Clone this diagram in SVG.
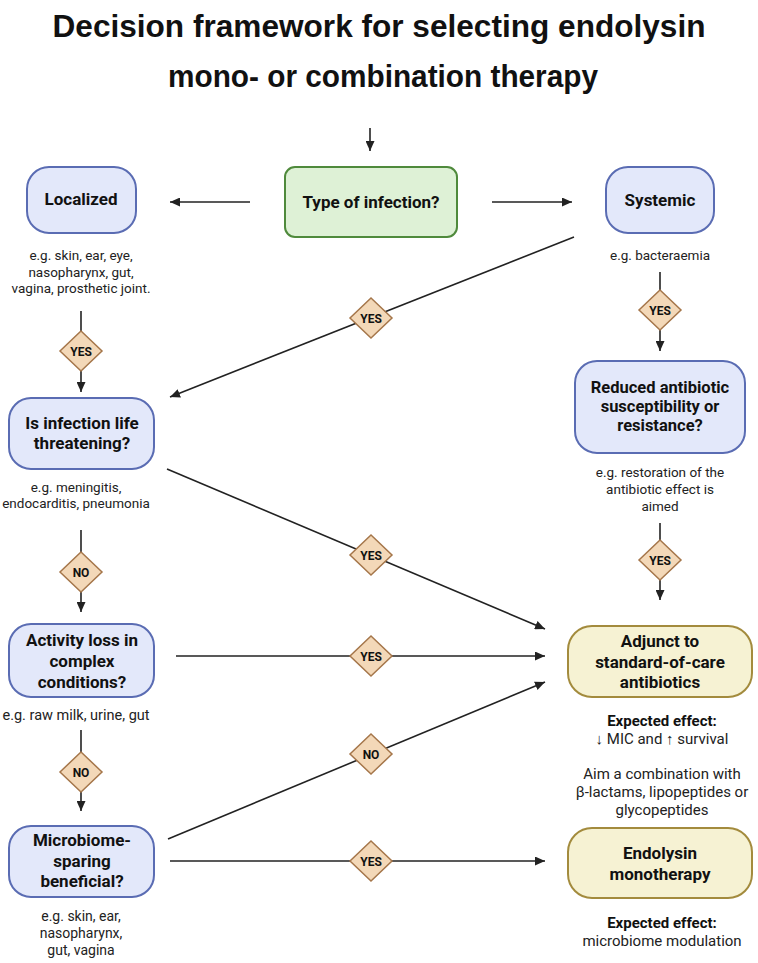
<svg xmlns="http://www.w3.org/2000/svg" width="758" height="963" viewBox="0 0 758 963">
<defs>
<marker id="arr" markerUnits="userSpaceOnUse" markerWidth="10" markerHeight="9" refX="10" refY="4.5" orient="auto">
<path d="M0,0 L10,4.5 L0,9 z" fill="#222"/>
</marker>
<style>
.title{font-family:"Liberation Sans",Arial,sans-serif;font-weight:bold;font-size:32px;fill:#111;text-anchor:middle}
.nt{font-family:Roboto,"Liberation Sans",sans-serif;font-weight:bold;font-size:17px;fill:#111;text-anchor:middle}
.cap{font-family:Roboto,"Liberation Sans",sans-serif;font-size:13.5px;fill:#222;text-anchor:middle}
.cap15{font-family:Roboto,"Liberation Sans",sans-serif;font-size:15px;fill:#222;text-anchor:middle}
.capb{font-family:Roboto,"Liberation Sans",sans-serif;font-weight:bold;font-size:15px;fill:#111;text-anchor:middle}
.blue{fill:#e3e8fa;stroke:#5a6cb3;stroke-width:2}
.green{fill:#def1d6;stroke:#4f8a3c;stroke-width:2}
.yellow{fill:#f6f2d3;stroke:#a38b3d;stroke-width:2}
.dia{fill:#f3d8b8;stroke:#a5764a;stroke-width:1.5}
.dt{font-family:Roboto,"Liberation Sans",sans-serif;font-weight:bold;font-size:12px;fill:#111;text-anchor:middle}
.ln{stroke:#222;stroke-width:1.6;fill:none}
</style>
</defs>
<rect width="758" height="963" fill="#fff"/>
<g id="title">
<text class="title" x="379" y="37" textLength="653" lengthAdjust="spacingAndGlyphs">Decision framework for selecting endolysin</text>
<text class="title" x="383" y="87" textLength="430" lengthAdjust="spacingAndGlyphs">mono- or combination therapy</text>
</g>
<g id="connectors">
<line class="ln" x1="370" y1="128" x2="370" y2="151" marker-end="url(#arr)"/>
<line class="ln" x1="250" y1="202" x2="170" y2="202" marker-end="url(#arr)"/>
<line class="ln" x1="492" y1="202" x2="572" y2="202" marker-end="url(#arr)"/>
<line class="ln" x1="574" y1="237" x2="170" y2="397" marker-end="url(#arr)"/>
<line class="ln" x1="81" y1="311" x2="81" y2="392" marker-end="url(#arr)"/>
<line class="ln" x1="660" y1="272" x2="660" y2="351" marker-end="url(#arr)"/>
<line class="ln" x1="660" y1="523" x2="660" y2="600" marker-end="url(#arr)"/>
<line class="ln" x1="167" y1="469" x2="545" y2="629" marker-end="url(#arr)"/>
<line class="ln" x1="81" y1="530" x2="81" y2="612" marker-end="url(#arr)"/>
<line class="ln" x1="176" y1="656" x2="545" y2="656" marker-end="url(#arr)"/>
<line class="ln" x1="81" y1="730" x2="81" y2="811" marker-end="url(#arr)"/>
<line class="ln" x1="168" y1="839" x2="545" y2="682" marker-end="url(#arr)"/>
<line class="ln" x1="170" y1="861" x2="545" y2="861" marker-end="url(#arr)"/>
<g id="labels">
<g transform="translate(371,318)"><path class="dia" d="M0,-20 L21,0 L0,20 L-21,0 z"/><text class="dt" y="4.5">YES</text></g>
<g transform="translate(81,351)"><path class="dia" d="M0,-20 L21,0 L0,20 L-21,0 z"/><text class="dt" y="4.5">YES</text></g>
<g transform="translate(660,310)"><path class="dia" d="M0,-20 L21,0 L0,20 L-21,0 z"/><text class="dt" y="4.5">YES</text></g>
<g transform="translate(660,560)"><path class="dia" d="M0,-20 L21,0 L0,20 L-21,0 z"/><text class="dt" y="4.5">YES</text></g>
<g transform="translate(371,555)"><path class="dia" d="M0,-20 L21,0 L0,20 L-21,0 z"/><text class="dt" y="4.5">YES</text></g>
<g transform="translate(81,572)"><path class="dia" d="M0,-20 L21,0 L0,20 L-21,0 z"/><text class="dt" y="4.5">NO</text></g>
<g transform="translate(371,656)"><path class="dia" d="M0,-20 L21,0 L0,20 L-21,0 z"/><text class="dt" y="4.5">YES</text></g>
<g transform="translate(81,772)"><path class="dia" d="M0,-20 L21,0 L0,20 L-21,0 z"/><text class="dt" y="4.5">NO</text></g>
<g transform="translate(371,754)"><path class="dia" d="M0,-20 L21,0 L0,20 L-21,0 z"/><text class="dt" y="4.5">NO</text></g>
<g transform="translate(371,861)"><path class="dia" d="M0,-20 L21,0 L0,20 L-21,0 z"/><text class="dt" y="4.5">YES</text></g>
</g>
</g>
<g id="type">
<rect class="green" x="285" y="167" width="172" height="70" rx="10"/>
<text class="nt" x="371" y="208">Type of infection?</text>
</g>
<g id="localized">
<rect class="blue" x="27" y="167" width="109" height="66" rx="22"/>
<text class="nt" x="81" y="205">Localized</text>
<text class="cap" x="81" y="260">e.g. skin, ear, eye,</text>
<text class="cap" x="81" y="277">nasopharynx, gut,</text>
<text class="cap" x="81" y="293">vagina, prosthetic joint.</text>
</g>
<g id="systemic">
<rect class="blue" x="606" y="167" width="108" height="66" rx="22"/>
<text class="nt" x="660" y="206">Systemic</text>
<text class="cap" x="660" y="260">e.g. bacteraemia</text>
</g>
<g id="lifethreat">
<rect class="blue" x="9" y="398" width="145" height="71" rx="22"/>
<text class="nt" x="82" y="429">Is infection life</text>
<text class="nt" x="82" y="449">threatening?</text>
<text class="cap" x="76" y="492">e.g. meningitis,</text>
<text class="cap" x="76" y="508">endocarditis, pneumonia</text>
</g>
<g id="reduced">
<rect class="blue" x="575" y="361" width="170" height="92" rx="22"/>
<text class="nt" x="660" y="393" style="font-size:16.5px">Reduced antibiotic</text>
<text class="nt" x="660" y="412" style="font-size:16.5px">susceptibility or</text>
<text class="nt" x="660" y="431" style="font-size:16.5px">resistance?</text>
<text class="cap" x="660" y="477">e.g. restoration of the</text>
<text class="cap" x="660" y="494">antibiotic effect is</text>
<text class="cap" x="660" y="511">aimed</text>
</g>
<g id="activity">
<rect class="blue" x="9" y="624" width="145" height="73" rx="22"/>
<text class="nt" x="82" y="646">Activity loss in</text>
<text class="nt" x="82" y="667">complex</text>
<text class="nt" x="82" y="688">conditions?</text>
<text class="cap" x="76" y="720" style="font-size:14.5px">e.g. raw milk, urine, gut</text>
</g>
<g id="microbiome">
<rect class="blue" x="9" y="826" width="145" height="71" rx="22"/>
<text class="nt" x="82" y="846">Microbiome-</text>
<text class="nt" x="82" y="867">sparing</text>
<text class="nt" x="82" y="887">beneficial?</text>
<text class="cap" x="81" y="921" style="font-size:14px">e.g. skin, ear,</text>
<text class="cap" x="81" y="938" style="font-size:14px">nasopharynx,</text>
<text class="cap" x="81" y="955" style="font-size:14px">gut, vagina</text>
</g>
<g id="adjunct">
<rect class="yellow" x="568" y="626" width="184" height="71" rx="24"/>
<text class="nt" x="660" y="647">Adjunct to</text>
<text class="nt" x="660" y="668">standard-of-care</text>
<text class="nt" x="660" y="688">antibiotics</text>
<text class="capb" x="662" y="726">Expected effect:</text>
<text class="cap15" x="662" y="744">↓ MIC and ↑ survival</text>
<text class="cap15" x="662" y="779">Aim a combination with</text>
<text class="cap15" x="662" y="797">β-lactams, lipopeptides or</text>
<text class="cap15" x="662" y="815">glycopeptides</text>
</g>
<g id="endolysin">
<rect class="yellow" x="568" y="828" width="184" height="70" rx="24"/>
<text class="nt" x="660" y="859">Endolysin</text>
<text class="nt" x="660" y="880">monotherapy</text>
<text class="capb" x="662" y="928">Expected effect:</text>
<text class="cap15" x="662" y="946">microbiome modulation</text>
</g>
</svg>
